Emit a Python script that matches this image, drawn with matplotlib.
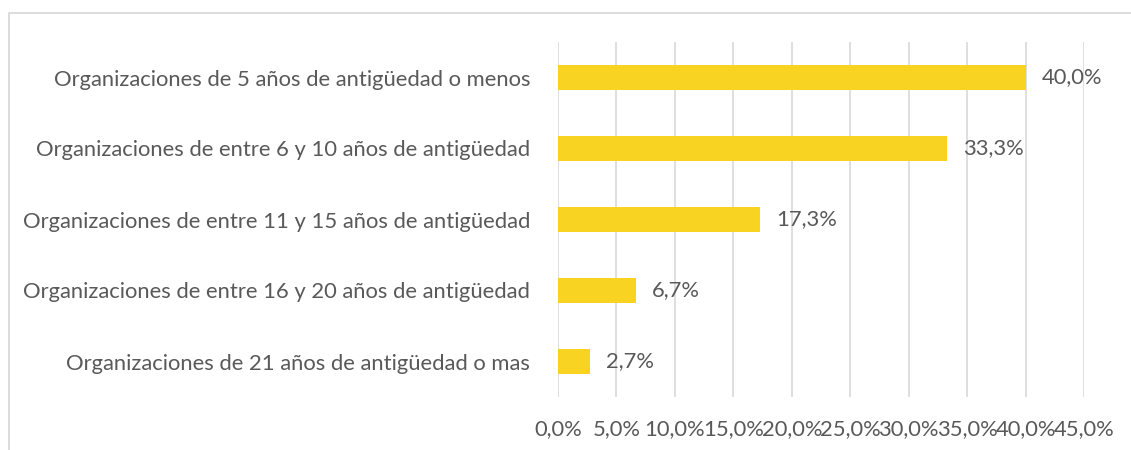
import matplotlib
matplotlib.use("Agg")
import matplotlib.pyplot as plt
from matplotlib.lines import Line2D
import numpy as np

categories = [
    "Organizaciones de 5 años de antigüedad o menos",
    "Organizaciones de entre 6 y 10 años de antigüedad",
    "Organizaciones de entre 11 y 15 años de antigüedad",
    "Organizaciones de entre 16 y 20 años de antigüedad",
    "Organizaciones de 21 años de antigüedad o mas",
]
values = [40.0, 33.3, 17.3, 6.7, 2.7]
xticks = [0, 5, 10, 15, 20, 25, 30, 35, 40, 45]

plt.rcParams['font.family'] = ['Lato', 'DejaVu Sans']
W, H = 1131, 450
fig = plt.figure(figsize=(W / 100, H / 100), dpi=100)
ax = fig.add_axes([558 / W, 1 - 397 / H, (1084 - 558) / W, (397 - 42) / H])

txt = '#595959'
fs = 15.8
y = np.arange(len(categories))
ax.barh(y, values, height=0.35, color='#F9D321', zorder=3)
ax.set_ylim(len(categories) - 0.5, -0.5)
ax.set_xlim(0, 45)
ax.set_xticks(xticks)
ax.set_xticklabels([f"{v:.1f}%".replace('.', ',') for v in xticks], fontsize=fs, color=txt)
ax.set_yticks(y)
ax.set_yticklabels(categories, fontsize=fs, color=txt)
ax.tick_params(axis='both', length=0)
ax.tick_params(axis='x', pad=16)
ax.tick_params(axis='y', pad=20)
ax.grid(axis='x', color='#D9D9D9', linewidth=1.2, zorder=0)
for s in ax.spines.values():
    s.set_visible(False)

for yi, v in zip(y, values):
    ax.annotate(f"{v:.1f}%".replace('.', ','), (v, yi), xytext=(11.5, 0),
                textcoords='offset points', va='center', ha='left',
                fontsize=fs, color=txt)

fig.add_artist(Line2D([8.5 / W, 8.5 / W, 1.0], [0, 1 - 13 / H, 1 - 13 / H],
                      transform=fig.transFigure, color='#D9D9D9', linewidth=1.3))

fig.savefig('out.png', dpi=100)
